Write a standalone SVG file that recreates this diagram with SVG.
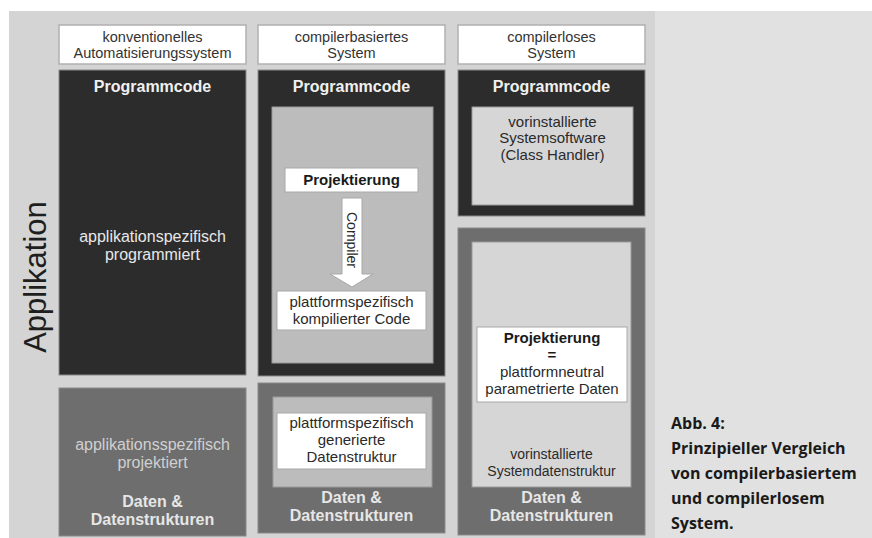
<svg xmlns="http://www.w3.org/2000/svg" width="872" height="538" viewBox="0 0 872 538">
<style>
.hdr{fill:#ffffff;stroke:#b0b0b0;stroke-width:1.5}
.dark{fill:#2c2c2c;stroke:#8a8a8a;stroke-width:1}
.mid{fill:#6e6e6e;stroke:#8a8a8a;stroke-width:1}
.lt{fill:#bcbcbc;stroke:#9a9a9a;stroke-width:1}
.lt2{fill:#d6d6d6;stroke:#9a9a9a;stroke-width:1}
.wb{fill:#ffffff;stroke:#a8a8a8;stroke-width:1}
text{font-family:"Liberation Sans",Arial,sans-serif;text-anchor:middle}
.h{font-size:14.5px;fill:#333333}
.b{font-size:16px;font-weight:bold;fill:#f0f0f0}
.bk{font-size:15px;font-weight:bold;fill:#1a1a1a}
.t{font-size:15px;fill:#2a2a2a}
.tw{font-size:16px;fill:#e8e8e8}
.cap{font-family:"Open Sans","Noto Sans",sans-serif;font-size:16px;font-weight:bold;fill:#1a1a1a;text-anchor:start}
</style>
<rect x="0" y="0" width="872" height="538" fill="#ffffff"/>
<rect x="9" y="11" width="646" height="527" fill="#d4d4d4"/>
<rect x="655" y="11" width="217" height="527" fill="#e0e1e0"/>
<g id="applikation">
<text x="46" y="277" transform="rotate(-90 46 277)" style="font-size:31px;fill:#1e1e1e">Applikation</text>
</g>
<g id="col1-header">
<rect class="hdr" x="59" y="25" width="187" height="39"/>
<text class="h" x="152.5" y="42">konventionelles</text>
<text class="h" x="152.5" y="58">Automatisierungssystem</text>
</g>
<g id="col1-code">
<rect class="dark" x="59" y="70" width="187" height="305"/>
<text class="b" x="152.5" y="92">Programmcode</text>
<text class="tw" x="152.5" y="242">applikationspezifisch</text>
<text class="tw" x="152.5" y="260">programmiert</text>
</g>
<g id="col1-data">
<rect class="mid" x="59" y="388" width="187" height="148"/>
<text class="tw" x="152.5" y="450" style="fill:#d0d0d0">applikationsspezifisch</text>
<text class="tw" x="152.5" y="468" style="fill:#d0d0d0">projektiert</text>
<text class="b" x="152.5" y="507" style="fill:#e6e6e6">Daten &amp;</text>
<text class="b" x="152.5" y="525" style="fill:#e6e6e6">Datenstrukturen</text>
</g>
<g id="col2-header">
<rect class="hdr" x="258" y="25" width="187" height="39"/>
<text class="h" x="351.5" y="42">compilerbasiertes</text>
<text class="h" x="351.5" y="58">System</text>
</g>
<g id="col2-code">
<rect class="dark" x="258" y="70" width="187" height="306"/>
<text class="b" x="351.5" y="92">Programmcode</text>
<rect class="lt" x="272" y="107" width="161" height="256"/>
</g>
<g id="col2-projektierung">
<rect class="wb" x="285" y="168" width="133" height="24"/>
<text class="bk" x="351.5" y="185">Projektierung</text>
</g>
<g id="col2-compiled">
<rect class="wb" x="277" y="291" width="149" height="39"/>
<text class="t" x="351.5" y="307">plattformspezifisch</text>
<text class="t" x="351.5" y="324">kompilierter Code</text>
</g>
<g id="connectors">
<path d="M342,198 H362 V274 H373 L352,287 L330,274 H342 Z" fill="#ffffff" stroke="#a8a8a8" stroke-width="1"/>
<text x="352" y="240" transform="rotate(90 352 240)" dy="5" style="font-size:14px;fill:#2a2a2a">Compiler</text>
</g>
<g id="col2-data">
<rect class="mid" x="258" y="383" width="187" height="150"/>
<rect class="lt" x="273" y="397" width="159" height="90"/>
<rect class="wb" x="277" y="413" width="149" height="56"/>
<text class="t" x="351.5" y="428">plattformspezifisch</text>
<text class="t" x="351.5" y="445">generierte</text>
<text class="t" x="351.5" y="462">Datenstruktur</text>
<text class="b" x="351.5" y="503" style="fill:#e6e6e6">Daten &amp;</text>
<text class="b" x="351.5" y="521" style="fill:#e6e6e6">Datenstrukturen</text>
</g>
<g id="col3-header">
<rect class="hdr" x="458" y="25" width="187" height="39"/>
<text class="h" x="551.5" y="42">compilerloses</text>
<text class="h" x="551.5" y="58">System</text>
</g>
<g id="col3-code">
<rect class="dark" x="458" y="70" width="187" height="146"/>
<text class="b" x="551.5" y="92">Programmcode</text>
<rect class="lt2" x="472" y="107" width="161" height="98"/>
<text class="t" x="552.5" y="127">vorinstallierte</text>
<text class="t" x="552.5" y="143">Systemsoftware</text>
<text class="t" x="552.5" y="160">(Class Handler)</text>
</g>
<g id="col3-data">
<rect class="mid" x="458" y="228" width="187" height="307"/>
<rect class="lt2" x="472" y="242" width="159" height="245"/>
<text class="t" x="551.5" y="459" style="font-size:14px">vorinstallierte</text>
<text class="t" x="551.5" y="476" style="font-size:14px">Systemdatenstruktur</text>
<text class="b" x="551.5" y="503" style="fill:#e6e6e6">Daten &amp;</text>
<text class="b" x="551.5" y="521" style="fill:#e6e6e6">Datenstrukturen</text>
</g>
<g id="col3-projektierung">
<rect class="wb" x="477" y="327" width="150" height="75"/>
<text class="bk" x="552" y="343">Projektierung</text>
<text class="bk" x="552" y="360">=</text>
<text class="t" x="552" y="377">plattformneutral</text>
<text class="t" x="552" y="394">parametrierte Daten</text>
</g>
<g id="caption">
<text class="cap" x="671" y="429">Abb. 4:</text>
<text class="cap" x="671" y="454">Prinzipieller Vergleich</text>
<text class="cap" x="671" y="479">von compilerbasiertem</text>
<text class="cap" x="671" y="504">und compilerlosem</text>
<text class="cap" x="671" y="529">System.</text>
</g>
</svg>
